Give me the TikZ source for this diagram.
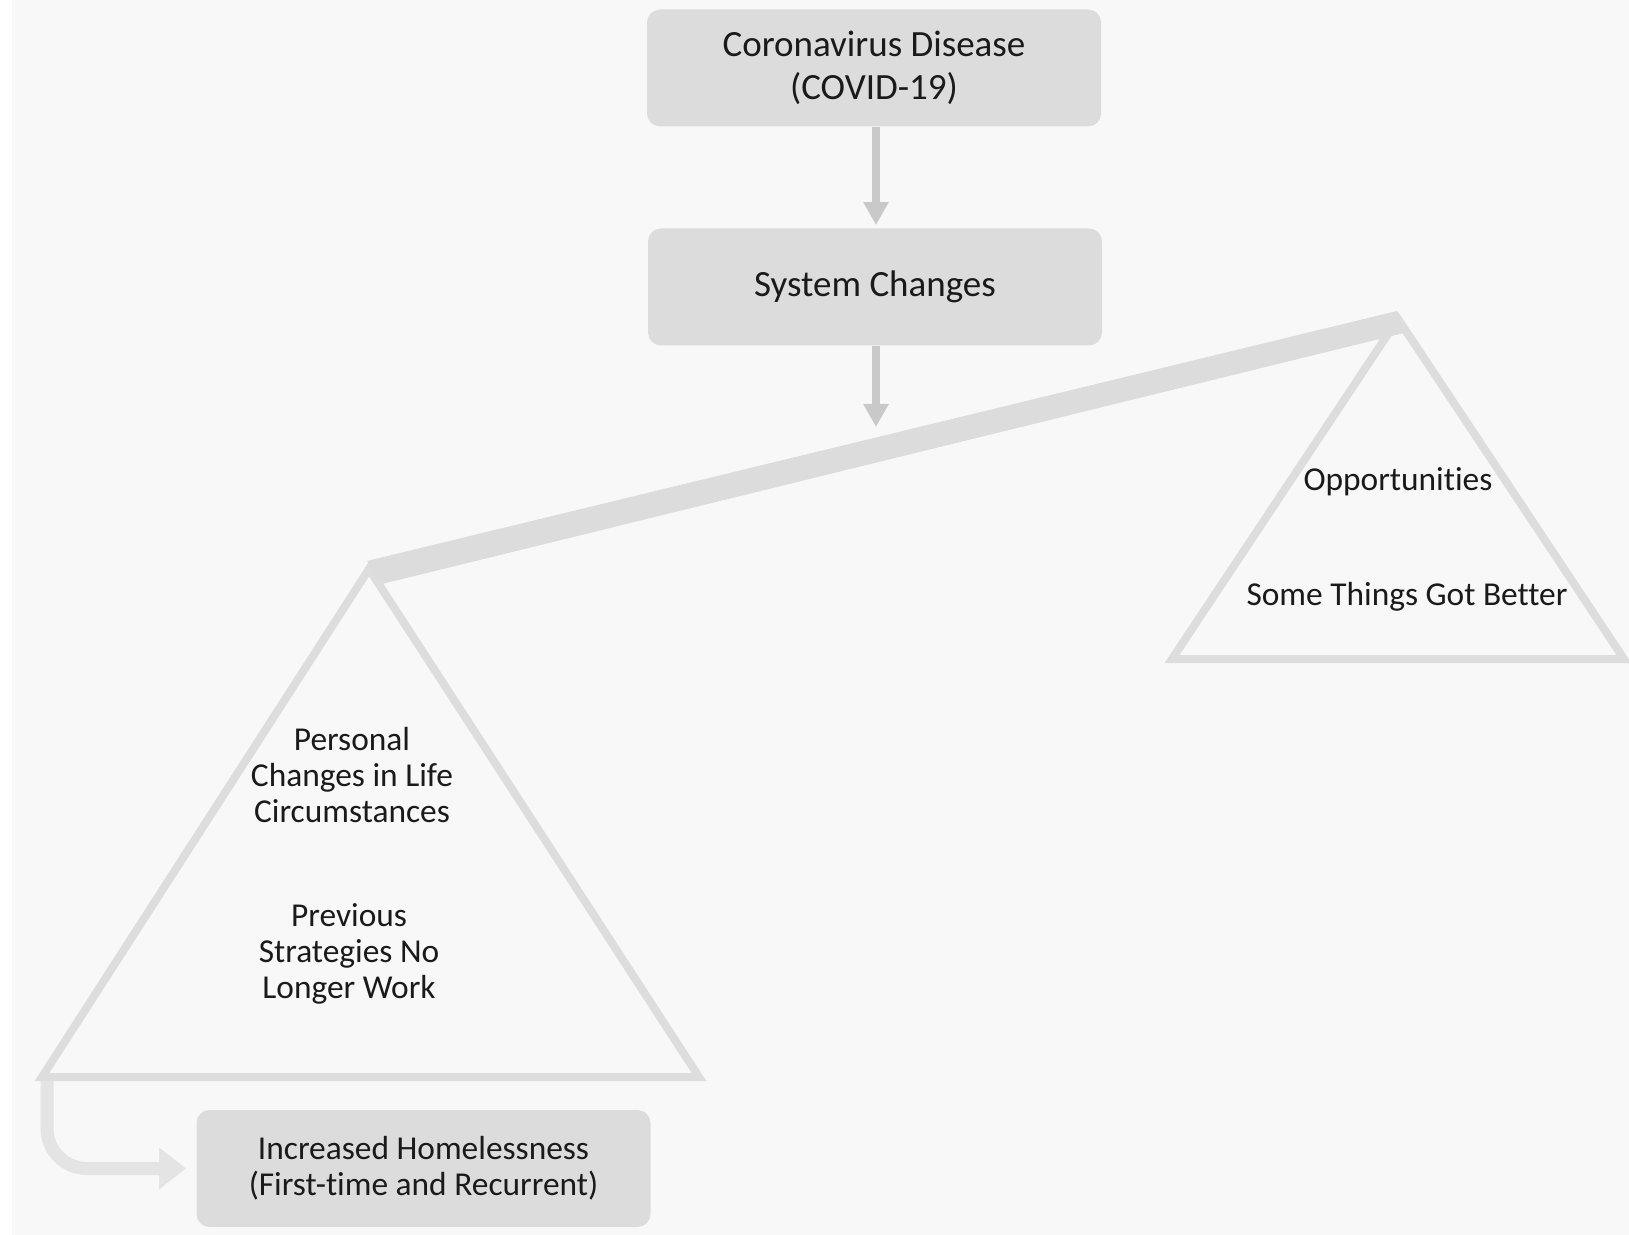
\documentclass[tikz,border=0pt]{standalone}
\usepackage{fontspec}
\setmainfont{Carlito}[Ligatures=NoCommon]
\usetikzlibrary{arrows.meta}
\definecolor{bggrey}{HTML}{F8F8F8}
\definecolor{boxgrey}{HTML}{DCDCDC}
\definecolor{arrowgrey}{HTML}{C9C9C9}
\definecolor{trigrey}{HTML}{DDDDDD}
\definecolor{elbowgrey}{HTML}{E4E4E4}
\definecolor{inkgrey}{HTML}{1A1A1A}
\tikzset{
	greybox/.style={fill=boxgrey,rounded corners=6.5pt,minimum width=227pt,minimum height=58.5pt,inner sep=0pt,align=center,text=inkgrey,font=\fontsize{18.5}{21.5}\selectfont},
	tritext/.style={align=center,inner sep=0pt,text=inkgrey,font=\fontsize{16.7}{18}\selectfont},
	downarrow/.style={draw=arrowgrey,line width=4pt,-{Triangle[length=11.5pt,width=12pt]}},
	tri/.style={draw=trigrey,line width=4pt,line join=miter}
}
\begin{document}
\begin{tikzpicture}[x=0.5pt,y=-0.5pt]
	\useasboundingbox (0,0) rectangle (1629,1235);
	\fill[white] (0,0) rectangle (1629,1235);
	\fill[bggrey] (12,0) rectangle (1629,1235);

		\begin{scope}[every node/.style={greybox}]
			\node (covid) at (874,68) {Coronavirus Disease\\(COVID-19)};
			\node (sys) at (875,287) {System Changes};
			\node[font=\fontsize{16.7}{18}\selectfont] (home) at (423.5,1168.5) {Increased Homelessness\\(First-time and Recurrent)};
		\end{scope}

	\coordinate (pivot) at (876,427);
	\coordinate (lapex) at (369,569);
	\coordinate (lleft) at (42,1077);
	\coordinate (lright) at (699,1077);
	\coordinate (rapex) at (1398,319);
	\coordinate (rleft) at (1172,659);
	\coordinate (rright) at (1624,659);
	\coordinate (hstart) at (47,1081);

	\draw[tri] (lapex) -- (lleft) -- (lright) -- cycle;
	\draw[tri] (rapex) -- (rleft) -- (rright) -- cycle;
	\fill[boxgrey] (367,561) -- (1397,311) -- (1404,333) -- (382,584) -- cycle;

		\begin{scope}[every node/.style={tritext}]
			\node (personal) at (352,775) {Personal\\Changes in Life\\Circumstances};
			\node (previous) at (349,954) {Previous\\Strategies No\\Longer Work};
			\node (opport) at (1398,482) {Opportunities};
			\node (better) at (1407,597) {Some Things Got Better};
		\end{scope}

\draw[downarrow,shorten >=1.5pt] (covid.south -| pivot) -- (sys.north -| pivot);
\draw[downarrow] (sys.south -| pivot) -- (pivot);
\draw[draw=elbowgrey,line width=6.5pt,rounded corners=20pt,shorten >=5pt,-{Triangle[length=13.5pt,width=20pt]}] (hstart) |- (home.west);
	\end{tikzpicture}
\end{document}
